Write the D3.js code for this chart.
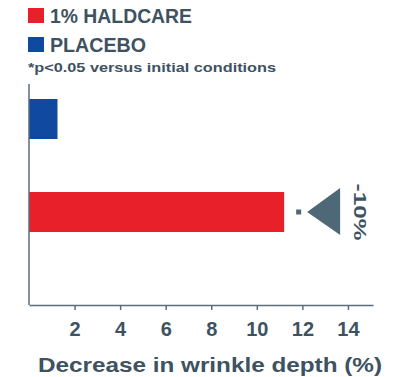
<!DOCTYPE html>
<html>
<head>
<meta charset="utf-8">
<script src="https://cdn.jsdelivr.net/npm/d3@7"></script>
<style>
  body { margin: 0; background: #fff; }
  text { font-family: "Liberation Sans", Arial, sans-serif; font-weight: bold; fill: #3e5262; }
</style>
</head>
<body>
<svg id="chart" width="396" height="377"></svg>
<script>
// bar data (decrease in wrinkle depth, %)
var groups = ["PLACEBO", "1% HALDCARE"];
var values = [1.25, 11.2];
var colors = ["#0f4aa0", "#e8202a"];
var tickValues = [2, 4, 6, 8, 10, 12, 14];
var legendLabels = ["1% HALDCARE", "PLACEBO"];
var legendColors = ["#e8202a", "#0f4aa0"];
var footnote = "*p<0.05 versus initial conditions";
var annotation = "-10%";
var axisTitle = "Decrease in wrinkle depth  (%)";

var svg = d3.select("#chart");
var ink = "#3e5262";

var x = d3.scaleLinear()
  .domain([0, 15.1])
  .range([29, 373]);

var y = d3.scaleBand()
  .domain(groups)
  .range([99, 232])
  .paddingInner(0.57)
  .paddingOuter(0);

// legend
var legend = svg.append("g");
legendLabels.forEach(function(l, i) {
  legend.append("rect")
    .attr("x", 28).attr("y", 8 + i * 29)
    .attr("width", 16).attr("height", 15)
    .attr("fill", legendColors[i]);
  legend.append("text")
    .attr("x", 50).attr("y", 23 + i * 29)
    .attr("font-size", 20)
    .attr("textLength", i == 0 ? 142 : 96)
    .attr("lengthAdjust", "spacingAndGlyphs")
    .text(l);
});
legend.append("text")
  .attr("x", 28).attr("y", 72)
  .attr("font-size", 12)
  .attr("textLength", 248)
  .attr("lengthAdjust", "spacingAndGlyphs")
  .text(footnote);

// bars
svg.selectAll("rect.bar")
  .data(values)
  .enter().append("rect")
  .attr("class", "bar")
  .attr("x", x(0))
  .attr("y", function(d, i) { return y(groups[i]); })
  .attr("width", function(d) { return x(d) - x(0); })
  .attr("height", y.bandwidth())
  .attr("fill", function(d, i) { return colors[i]; });

// y axis line
svg.append("line")
  .attr("x1", x(0)).attr("x2", x(0))
  .attr("y1", 84).attr("y2", 305)
  .attr("stroke", "#5b6d7b").attr("stroke-width", 1.5);

// x axis
var xAxis = d3.axisBottom(x)
  .tickValues(tickValues)
  .tickSize(5)
  .tickSizeOuter(0)
  .tickPadding(12);
var xGroup = svg.append("g")
  .attr("transform", "translate(0,305)")
  .call(xAxis);
xGroup.select(".domain").attr("stroke", "#5b6d7b").attr("stroke-width", 1.5);
xGroup.selectAll(".tick line").attr("stroke", "#5b6d7b").attr("stroke-width", 1.5);
xGroup.selectAll(".tick text")
  .attr("fill", ink)
  .attr("font-size", 20)
  .attr("font-family", "Liberation Sans, Arial, sans-serif")
  .attr("font-weight", "bold");

svg.append("text")
  .attr("x", 38).attr("y", 372)
  .attr("font-size", 21)
  .attr("textLength", 344)
  .attr("lengthAdjust", "spacingAndGlyphs")
  .text(axisTitle);

// annotation next to the HALDCARE bar
var barEnd = x(values[1]);
var cy = y(groups[1]) + y.bandwidth() / 2;
svg.append("rect")
  .attr("x", barEnd + 12).attr("y", cy - 2.5)
  .attr("width", 5).attr("height", 5)
  .attr("fill", "#4f6878");
svg.append("path")
  .attr("d", "M" + (barEnd + 23) + "," + cy +
    " L" + (barEnd + 56) + "," + (cy - 24) +
    " L" + (barEnd + 56) + "," + (cy + 23) + " Z")
  .attr("fill", "#4f6878");
svg.append("text")
  .attr("transform", "translate(" + (barEnd + 70) + "," + cy + ") rotate(90)")
  .attr("text-anchor", "middle")
  .attr("font-size", 17)
  .attr("textLength", 57)
  .attr("lengthAdjust", "spacingAndGlyphs")
  .text(annotation);
</script>
</body>
</html>
